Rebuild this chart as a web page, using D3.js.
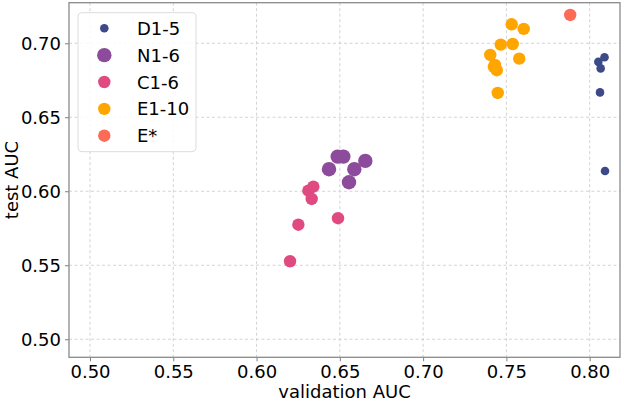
<!DOCTYPE html>
<html><head><meta charset="utf-8">
<script src="https://cdn.jsdelivr.net/npm/d3@7"></script>
<style>body{margin:0;background:#fff}svg{display:block}text{font-family:"DejaVu Sans",sans-serif}</style>
</head><body>
<svg id="c" width="624" height="401"></svg>
<script>
const seriesNames = ["D1-5","N1-6","C1-6","E1-10","E*"];
const seriesColors = ["#3d4a89","#8d4b9b","#df4b80","#ffa500","#fd6a55"];
const seriesRadius = [4.3,7.2,6.2,6.2,6.2];
const dX = [0.8089,0.8052,0.8066,0.8062,0.8092];
const dY = [0.6905,0.6874,0.6830,0.6668,0.6137];
const nX = [0.6487,0.6521,0.6435,0.6587,0.6653,0.6555];
const nY = [0.6234,0.6234,0.6149,0.6149,0.6205,0.6061];
const cX = [0.6341,0.6311,0.6331,0.6251,0.6489,0.6201];
const cY = [0.6031,0.6004,0.5948,0.5774,0.5818,0.5527];
const eX = [0.7532,0.7604,0.7466,0.7538,0.7403,0.7577,0.7431,0.7425,0.7442,0.7448];
const eY = [0.7128,0.7097,0.6991,0.6995,0.6921,0.6896,0.6853,0.6840,0.6818,0.6664];
const esX = [0.7883];
const esY = [0.7191];
const xTicks = [0.50,0.55,0.60,0.65,0.70,0.75,0.80];
const yTicks = [0.50,0.55,0.60,0.65,0.70];
const xLabel = "validation AUC", yLabel = "test AUC";

const series = [[dX,dY],[nX,nY],[cX,cY],[eX,eY],[esX,esY]];
const L=69, R=620, T=2.7, B=357.3;
const x = d3.scaleLinear().domain([0.4874,0.8182]).range([L,R]);
const y = d3.scaleLinear().domain([0.4878,0.7274]).range([B,T]);
const svg = d3.select("#c");
const fs = 18;

// grid
const g = svg.append("g");
g.selectAll(".gx").data(xTicks).join("line")
  .attr("x1",d=>x(d)).attr("x2",d=>x(d)).attr("y1",T).attr("y2",B)
  .attr("stroke","#c8c8c8").attr("stroke-width",0.8).attr("stroke-dasharray","3,2.5");
g.selectAll(".gy").data(yTicks).join("line")
  .attr("y1",d=>y(d)).attr("y2",d=>y(d)).attr("x1",L).attr("x2",R)
  .attr("stroke","#c8c8c8").attr("stroke-width",0.8).attr("stroke-dasharray","3,2.5");

// axes
const xa = svg.append("g").attr("transform",`translate(0,${B})`)
  .call(d3.axisBottom(x).tickValues(xTicks).tickFormat(d3.format(".2f")).tickSize(4).tickPadding(4));
const ya = svg.append("g").attr("transform",`translate(${L},0)`)
  .call(d3.axisLeft(y).tickValues(yTicks).tickFormat(d3.format(".2f")).tickSize(4).tickPadding(4));
[xa,ya].forEach(a=>{
  a.select(".domain").remove();
  a.selectAll("line").attr("stroke","#808080");
  a.selectAll("text").attr("font-size",fs).attr("fill","#000").attr("font-family","DejaVu Sans");
});
// spines
svg.append("rect").attr("x",L).attr("y",T).attr("width",R-L).attr("height",B-T)
  .attr("fill","none").attr("stroke","#8a8a8a").attr("stroke-width",1.3);

// points
series.forEach((s,i)=>{
  const pts = s[0].map((v,j)=>[v,s[1][j]]);
  svg.append("g").selectAll("circle").data(pts).join("circle")
    .attr("cx",d=>x(d[0])).attr("cy",d=>y(d[1])).attr("r",seriesRadius[i])
    .attr("fill",seriesColors[i]);
});

// labels
svg.append("text").attr("x",(L+R)/2).attr("y",397.5).attr("text-anchor","middle")
  .attr("font-size",fs).text(xLabel);
svg.append("text").attr("transform",`translate(17.5,${(T+B)/2}) rotate(-90)`).attr("text-anchor","middle")
  .attr("font-size",fs).text(yLabel);

// legend
const lg = svg.append("g");
lg.append("rect").attr("x",78).attr("y",12.7).attr("width",118).attr("height",139)
  .attr("rx",4).attr("fill","rgba(255,255,255,0.85)").attr("stroke","#dcdcdc").attr("stroke-width",1);
seriesNames.forEach((n,i)=>{
  const cy = 28.3 + i*26.85;
  lg.append("circle").attr("cx",104.3).attr("cy",cy).attr("r",seriesRadius[i]).attr("fill",seriesColors[i]);
  lg.append("text").attr("x",137).attr("y",cy+6.5).attr("font-size",fs).text(n);
});
</script>
</body></html>
